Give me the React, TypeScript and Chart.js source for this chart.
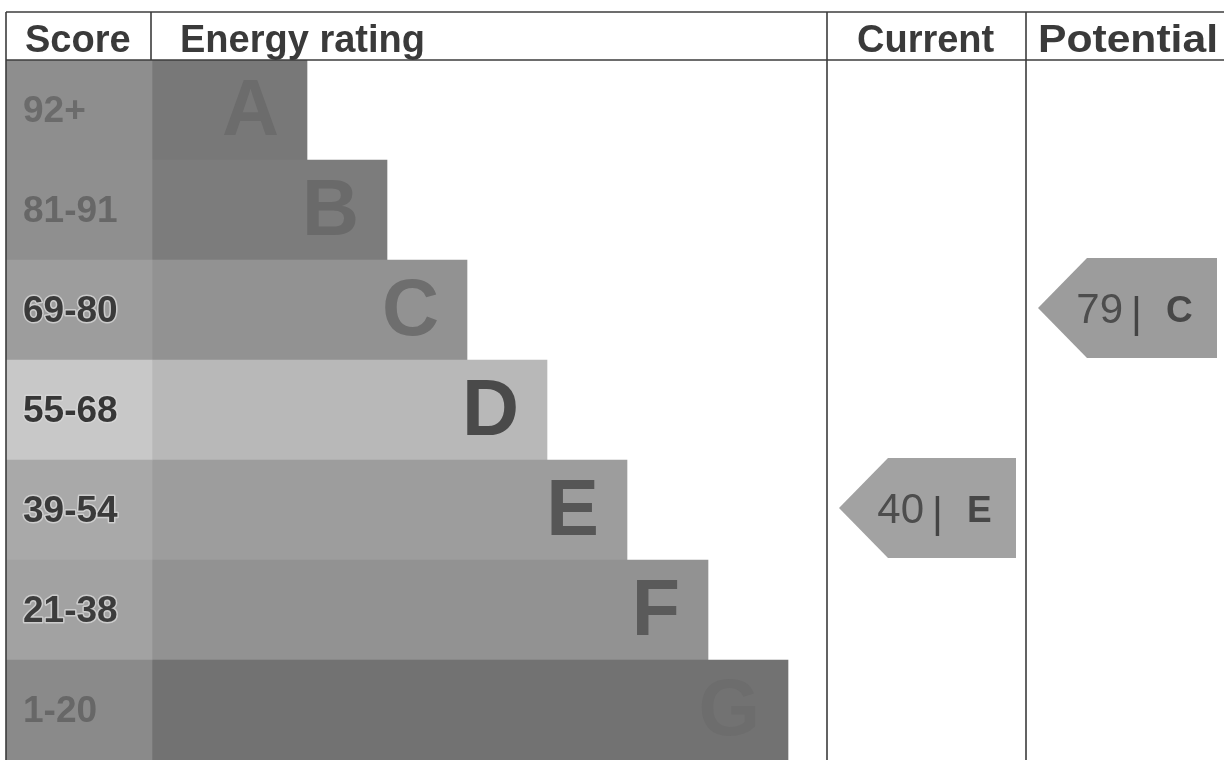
import React, { useEffect, useRef } from "react";
import { Chart, registerables } from "chart.js";

Chart.register(...registerables);

// ---- data ----
const bands = ["A", "B", "C", "D", "E", "F", "G"];
const scoreRanges = ["92+", "81-91", "69-80", "55-68", "39-54", "21-38", "1-20"];
const bandMinScores = [92, 81, 69, 55, 39, 21, 1];
const barLengths = [155, 235, 315, 395, 475, 556, 636];
const headerLabels = ["Score", "Energy rating", "Current", "Potential"];
const currentScore = 40;
const potentialScore = 79;

// ---- styles ----
const scoreCellColors = ["#8e8e8e", "#8f8f8f", "#9d9d9d", "#c8c8c8", "#a9a9a9", "#a2a2a2", "#8a8a8a"];
const barColors = ["#787878", "#7c7c7c", "#929292", "#b8b8b8", "#9d9d9d", "#929292", "#727272"];
const letterColors = ["#6c6c6c", "#6a6a6a", "#6e6e6e", "#4a4a4a", "#565656", "#5a5a5a", "#6d6d6d"];
const rangeTextColors = ["#6b6b6b", "#676767", "#3a3a3a", "#363636", "#3a3a3a", "#3c3c3c", "#676767"];
const rangeHalo = [false, false, true, true, true, true, false];

const FONT = "'Liberation Sans', Arial, sans-serif";
const SCORE_COL_END = 146; // x-scale units
const CURRENT_COL = [821, 1020];
const POTENTIAL_COL = [1020, 1221];
const X_MAX = 1218;

function bandIndexFor(score: number): number {
  for (let i = 0; i < bandMinScores.length; i++) {
    if (score >= bandMinScores[i]) return i;
  }
  return bandMinScores.length - 1;
}

const epcPlugin = {
  id: "epcDecor",
  afterDatasetsDraw(chart: any) {
    const ctx: CanvasRenderingContext2D = chart.ctx;
    const xs = chart.scales.x;
    const area = chart.chartArea;
    const barMeta = chart.getDatasetMeta(1);
    const cellMeta = chart.getDatasetMeta(0);

    ctx.save();
    // score range labels and band letters
    bands.forEach((b, i) => {
      const cell = cellMeta.data[i];
      const bar = barMeta.data[i];
      const cy = cell.y;
      ctx.textBaseline = "middle";
      ctx.textAlign = "left";
      ctx.font = `bold 37px ${FONT}`;
      const lx = xs.getPixelForValue(0) + 17;
      if (rangeHalo[i]) {
        ctx.lineWidth = 3;
        ctx.strokeStyle = "rgba(215,215,215,0.8)";
        ctx.lineJoin = "round";
        ctx.strokeText(scoreRanges[i], lx, cy + 2);
      }
      ctx.fillStyle = rangeTextColors[i];
      ctx.fillText(scoreRanges[i], lx, cy + 2);

      ctx.textAlign = "right";
      ctx.font = `bold 79px ${FONT}`;
      ctx.fillStyle = letterColors[i];
      ctx.fillText(b, bar.x - 28, cy + 3);
    });

    // header
    const headerTop = 12;
    const headerBottom = area.top;
    ctx.fillStyle = "#3a3a3a";
    ctx.textAlign = "left";
    ctx.textBaseline = "alphabetic";
    ctx.font = `bold 38px ${FONT}`;
    const headerX = [xs.getPixelForValue(0) + 19, xs.getPixelForValue(SCORE_COL_END) + 28, xs.getPixelForValue(CURRENT_COL[0]) + 30, xs.getPixelForValue(POTENTIAL_COL[0]) + 12];
    headerLabels.forEach((h, i) => {
      if (i === 3) {
        ctx.save();
        ctx.font = `bold 38px ${FONT}`;
        const w = ctx.measureText(h).width;
        ctx.translate(headerX[i], 52);
        ctx.scale(180 / w, 1);
        ctx.fillText(h, 0, 0);
        ctx.restore();
      } else {
        ctx.fillText(h, headerX[i], 52);
      }
    });

    // grid lines
    ctx.strokeStyle = "#3c3c3c";
    ctx.lineWidth = 1.6;
    const left = area.left;
    const right = chart.width;
    const line = (x1: number, y1: number, x2: number, y2: number) => {
      ctx.beginPath();
      ctx.moveTo(x1, y1);
      ctx.lineTo(x2, y2);
      ctx.stroke();
    };
    line(left, headerTop, right, headerTop);
    line(left, headerBottom, right, headerBottom);
    line(left, headerTop, left, area.bottom);
    const scoreDiv = xs.getPixelForValue(SCORE_COL_END) - 1;
    line(scoreDiv, headerTop, scoreDiv, headerBottom);
    const curL = xs.getPixelForValue(CURRENT_COL[0]);
    const potL = xs.getPixelForValue(POTENTIAL_COL[0]);
    line(curL, headerTop, curL, area.bottom);
    line(potL, headerTop, potL, area.bottom);

    // arrows
    const drawArrow = (score: number, col: number[], fill: string) => {
      const idx = bandIndexFor(score);
      const cell = cellMeta.data[idx];
      const top = cell.y - cell.height / 2 - 2;
      const bottom = cell.y + cell.height / 2 - 2;
      const mid = (top + bottom) / 2;
      const cl = xs.getPixelForValue(col[0]);
      const cr = xs.getPixelForValue(col[1]);
      const tip = cl + 12;
      const rl = cl + 61;
      const rr = cr - 10;
      ctx.fillStyle = fill;
      ctx.beginPath();
      ctx.moveTo(tip, mid);
      ctx.lineTo(rl, top);
      ctx.lineTo(rr, top);
      ctx.lineTo(rr, bottom);
      ctx.lineTo(rl, bottom);
      ctx.closePath();
      ctx.fill();

      const numStr = String(score);
      const letter = bands[idx];
      ctx.textBaseline = "alphabetic";
      ctx.textAlign = "left";
      ctx.font = `42px ${FONT}`;
      const numW = ctx.measureText(numStr).width;
      const barW = ctx.measureText("|").width;
      ctx.font = `bold 37px ${FONT}`;
      const letW = ctx.measureText(letter).width;
      const gap1 = 8;
      const gap2 = 24;
      const total = numW + gap1 + barW + gap2 + letW;
      let x = (tip + rr) / 2 + 7 - total / 2;
      const base = mid + 15;
      ctx.fillStyle = "#4d4d4d";
      ctx.font = `42px ${FONT}`;
      ctx.fillText(numStr, x, base);
      x += numW + gap1;
      ctx.fillStyle = "#444444";
      ctx.fillText("|", x, base + 4);
      x += barW + gap2;
      ctx.font = `bold 37px ${FONT}`;
      ctx.fillStyle = "#474747";
      ctx.fillText(letter, x, base - 1);
    };
    drawArrow(currentScore, CURRENT_COL, "#a2a2a2");
    drawArrow(potentialScore, POTENTIAL_COL, "#9c9c9c");

    ctx.restore();
  },
};

export default function App() {
  const ref = useRef<HTMLCanvasElement | null>(null);

  useEffect(() => {
    document.body.style.margin = "0";
    const canvas = ref.current;
    if (!canvas) return;
    const chart = new Chart(canvas, {
      type: "bar",
      data: {
        labels: bands,
        datasets: [
          {
            label: "Score",
            data: bands.map(() => [0, SCORE_COL_END]) as any,
            backgroundColor: scoreCellColors,
            borderWidth: 0,
            grouped: false,
            barPercentage: 1,
            categoryPercentage: 1,
          } as any,
          {
            label: "Energy rating",
            data: barLengths.map((l) => [SCORE_COL_END, SCORE_COL_END + l]) as any,
            backgroundColor: barColors,
            borderWidth: 0,
            grouped: false,
            barPercentage: 1,
            categoryPercentage: 1,
          } as any,
        ],
      },
      options: {
        indexAxis: "y",
        animation: false,
        responsive: false,
        devicePixelRatio: 1,
        layout: { padding: { top: 60, left: 6, right: 0, bottom: 0 } },
        scales: {
          x: { type: "linear", min: 0, max: X_MAX, display: false },
          y: { type: "category", display: false, offset: true },
        },
        plugins: {
          legend: { display: false },
          tooltip: { enabled: false },
        },
      },
      plugins: [epcPlugin],
    });
    return () => chart.destroy();
  }, []);

  return (
    <div style={{ width: 1224, height: 760, background: "#ffffff" }}>
      <canvas ref={ref} width={1224} height={760} style={{ display: "block" }} />
    </div>
  );
}
